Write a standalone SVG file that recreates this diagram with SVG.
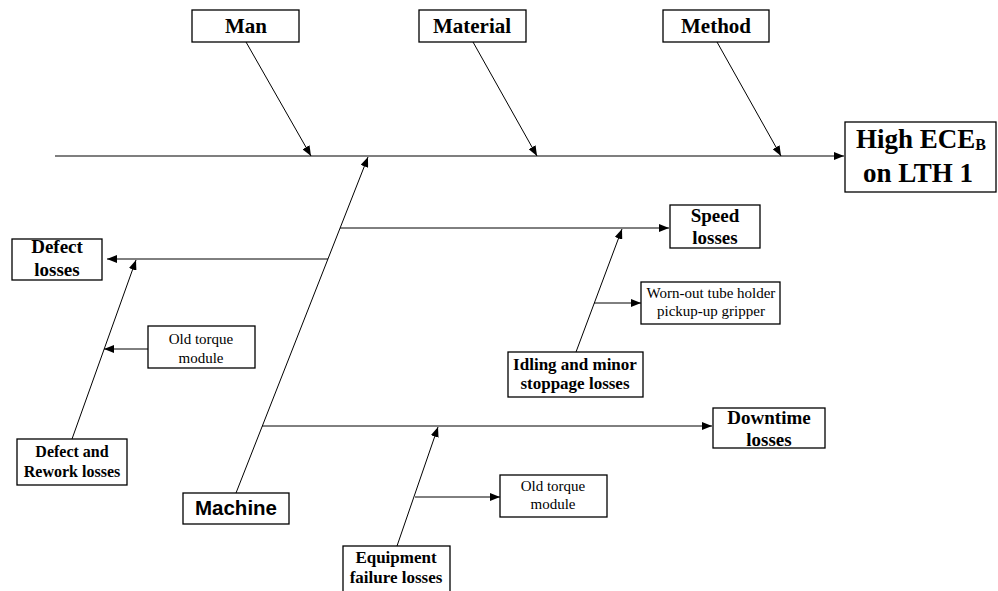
<svg xmlns="http://www.w3.org/2000/svg" width="998" height="591" viewBox="0 0 998 591">
  <style>
    .box { fill: #fff; stroke: #000; stroke-width: 1.3; }
    .ln { fill: none; stroke: #000; stroke-width: 1; }
    .spine { fill: none; stroke: #555; stroke-width: 1.6; }
    .b { font-family: "Liberation Serif", "Times New Roman", serif; font-weight: bold; fill: #000; text-anchor: middle; }
    .r { font-family: "Liberation Serif", "Times New Roman", serif; fill: #000; text-anchor: middle; }
    .s { font-family: "Liberation Sans", Arial, sans-serif; font-weight: bold; fill: #000; text-anchor: middle; }
  </style>
  <defs>
    <marker id="ah" viewBox="0 0 10 8" refX="10" refY="4" markerWidth="10" markerHeight="8" markerUnits="userSpaceOnUse" orient="auto">
      <path d="M0,0 L10,4 L0,8 z" fill="#000"/>
    </marker>
  </defs>
  <rect width="998" height="591" fill="#fff"/>

  <g id="connectors">
    <!-- main spine -->
    <line class="spine" x1="55" y1="156" x2="844" y2="156" marker-end="url(#ah)"/>
    <!-- top bones -->
    <line class="ln" x1="246" y1="42" x2="311" y2="156" marker-end="url(#ah)"/>
    <line class="ln" x1="473" y1="42" x2="537" y2="156" marker-end="url(#ah)"/>
    <line class="ln" x1="717" y1="42" x2="781" y2="156" marker-end="url(#ah)"/>
    <!-- machine bone -->
    <line class="ln" x1="236" y1="493" x2="368" y2="157" marker-end="url(#ah)"/>
    <!-- branches from machine bone -->
    <line class="ln" x1="340" y1="228" x2="669" y2="228" marker-end="url(#ah)"/>
    <line class="ln" x1="328" y1="259" x2="107" y2="259" marker-end="url(#ah)"/>
    <line class="ln" x1="262" y1="426" x2="712" y2="426" marker-end="url(#ah)"/>
    <!-- defect and rework -->
    <line class="ln" x1="72" y1="439" x2="136" y2="260" marker-end="url(#ah)"/>
    <line class="ln" x1="148" y1="349" x2="104" y2="349" marker-end="url(#ah)"/>
    <!-- idling and minor stoppage -->
    <line class="ln" x1="576" y1="352" x2="622" y2="229" marker-end="url(#ah)"/>
    <line class="ln" x1="594" y1="303" x2="641" y2="303" marker-end="url(#ah)"/>
    <!-- equipment failure -->
    <line class="ln" x1="397" y1="546" x2="438" y2="427" marker-end="url(#ah)"/>
    <line class="ln" x1="415" y1="497" x2="500" y2="497" marker-end="url(#ah)"/>
  </g>

  <g id="man">
    <rect class="box" x="192" y="10" width="107" height="32"/>
    <text class="b" x="246" y="33" font-size="21">Man</text>
  </g>
  <g id="material">
    <rect class="box" x="419" y="10" width="107" height="32"/>
    <text class="b" x="472" y="33" font-size="21">Material</text>
  </g>
  <g id="method">
    <rect class="box" x="663" y="10" width="106" height="32"/>
    <text class="b" x="716" y="33" font-size="21">Method</text>
  </g>
  <g id="head">
    <rect class="box" x="845" y="122" width="151" height="70"/>
    <text class="b" x="921" y="148" font-size="27">High ECE<tspan font-size="16" dy="2">B</tspan></text>
    <text class="b" x="918" y="182" font-size="27">on LTH 1</text>
  </g>
  <g id="machine">
    <rect class="box" x="183" y="493" width="106" height="31"/>
    <text class="s" x="236" y="515" font-size="20.5">Machine</text>
  </g>
  <g id="speed-losses">
    <rect class="box" x="670" y="205" width="90" height="43"/>
    <text class="b" x="715" y="222" font-size="19">Speed</text>
    <text class="b" x="715" y="244" font-size="19">losses</text>
  </g>
  <g id="defect-losses">
    <rect class="box" x="12" y="239" width="90" height="41"/>
    <text class="b" x="57" y="253" font-size="19">Defect</text>
    <text class="b" x="57" y="276" font-size="19">losses</text>
  </g>
  <g id="downtime-losses">
    <rect class="box" x="713" y="408" width="112" height="40"/>
    <text class="b" x="769" y="424" font-size="19">Downtime</text>
    <text class="b" x="769" y="446" font-size="19">losses</text>
  </g>
  <g id="defect-rework">
    <rect class="box" x="17" y="439" width="110" height="46"/>
    <text class="b" x="72" y="457" font-size="16">Defect and</text>
    <text class="b" x="72" y="477" font-size="16">Rework losses</text>
  </g>
  <g id="old-torque-left">
    <rect class="box" x="148" y="326" width="107" height="42"/>
    <text class="r" x="201" y="344" font-size="15">Old torque</text>
    <text class="r" x="201" y="363" font-size="15">module</text>
  </g>
  <g id="idling-minor">
    <rect class="box" x="508" y="352" width="135" height="45"/>
    <text class="b" x="575" y="370" font-size="17">Idling and minor</text>
    <text class="b" x="575" y="389" font-size="17">stoppage losses</text>
  </g>
  <g id="worn-out-gripper">
    <rect class="box" x="641" y="282" width="139" height="42"/>
    <text class="r" x="711" y="298" font-size="15">Worn-out tube holder</text>
    <text class="r" x="711" y="316" font-size="15">pickup-up gripper</text>
  </g>
  <g id="equipment-failure">
    <rect class="box" x="343" y="546" width="107" height="50"/>
    <text class="b" x="396" y="563" font-size="17">Equipment</text>
    <text class="b" x="396" y="583" font-size="17">failure losses</text>
  </g>
  <g id="old-torque-bottom">
    <rect class="box" x="500" y="475" width="107" height="42"/>
    <text class="r" x="553" y="491" font-size="15">Old torque</text>
    <text class="r" x="553" y="509" font-size="15">module</text>
  </g>
</svg>
